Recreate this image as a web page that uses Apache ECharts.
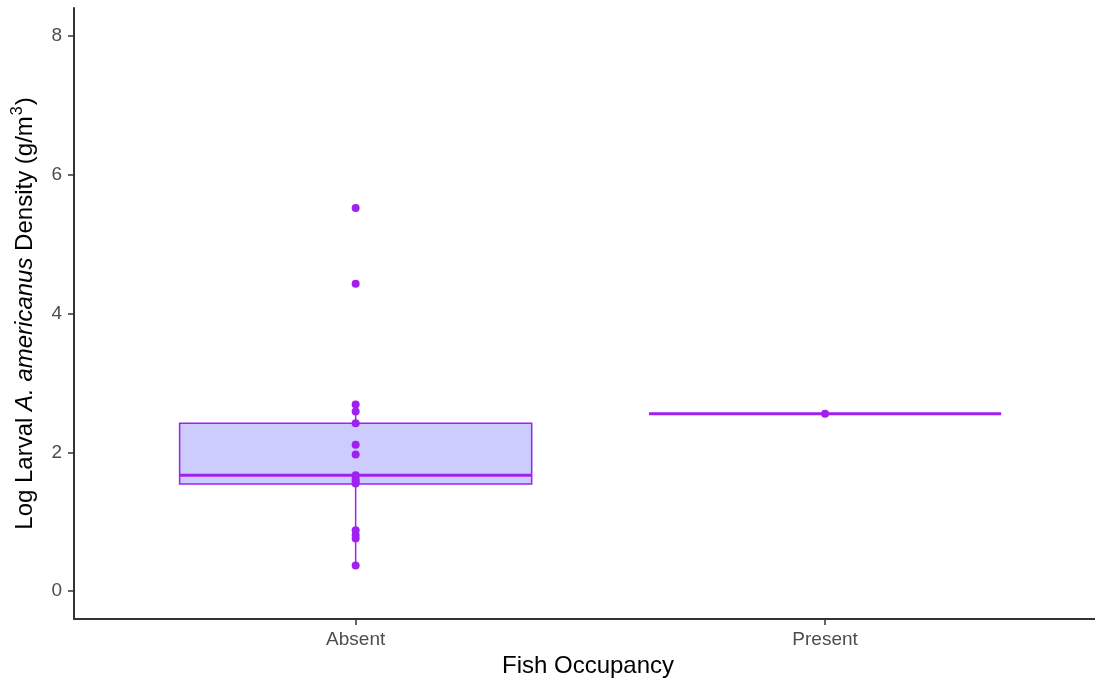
<!DOCTYPE html>
<html>
<head>
<meta charset="utf-8">
<script src="https://cdn.jsdelivr.net/npm/echarts@6.0.0/dist/echarts.min.js"></script>
<style>
  html, body { margin: 0; padding: 0; background: #ffffff; }
  #chart { width: 1095px; height: 683px; }
</style>
</head>
<body>
<div id="chart"></div>
<script>
// Groups along the x axis (placed at positions 1 and 2)
const categories = ['Absent', 'Present'];
// Box summary per group: [lower whisker, Q1, median, Q3, upper whisker]
const boxStats = [
  [0.37, 1.545, 1.67, 2.42, 2.69],
  [2.555, 2.555, 2.555, 2.555, 2.555]
];
// Individual observations per group
const absentValues = [5.52, 4.43, 2.69, 2.59, 2.42, 2.11, 1.97, 1.67, 1.62, 1.58, 1.55, 0.88, 0.81, 0.76, 0.37];
const presentValues = [2.555];
// Y axis tick labels
const yTicks = [0, 2, 4, 6, 8];

const PURPLE = '#A020F0';
const FILL = '#CCCCFF';
const FONT = '"Liberation Sans", Arial, sans-serif';
const BOX_HALF_WIDTH = 0.375;

const chart = echarts.init(document.getElementById('chart'), null, { renderer: 'canvas' });

const boxData = boxStats.map((s, i) => [i + 1].concat(s));
const pointData = absentValues.map(v => [1, v]).concat(presentValues.map(v => [2, v]));

function renderBox(params, api) {
  const x = api.value(0);
  const lo = api.value(1), q1 = api.value(2), med = api.value(3), q3 = api.value(4), hi = api.value(5);
  const tl = api.coord([x - BOX_HALF_WIDTH, q3]);
  const br = api.coord([x + BOX_HALF_WIDTH, q1]);
  const mL = api.coord([x - BOX_HALF_WIDTH, med]);
  const mR = api.coord([x + BOX_HALF_WIDTH, med]);
  const pLo = api.coord([x, lo]);
  const pHi = api.coord([x, hi]);
  const pQ1 = api.coord([x, q1]);
  const pQ3 = api.coord([x, q3]);
  const whisker = { stroke: PURPLE, lineWidth: 1.5 };
  return {
    type: 'group',
    children: [
      { type: 'line', shape: { x1: pQ3[0], y1: pQ3[1], x2: pHi[0], y2: pHi[1] }, style: whisker },
      { type: 'line', shape: { x1: pQ1[0], y1: pQ1[1], x2: pLo[0], y2: pLo[1] }, style: whisker },
      {
        type: 'rect',
        shape: { x: tl[0], y: tl[1], width: br[0] - tl[0], height: br[1] - tl[1] },
        style: { fill: FILL, stroke: PURPLE, lineWidth: 1.5 }
      },
      { type: 'line', shape: { x1: mL[0], y1: mL[1], x2: mR[0], y2: mR[1] }, style: { stroke: PURPLE, lineWidth: 3 } }
    ]
  };
}

const axisLineStyle = { color: '#333333', width: 2 };

const option = {
  backgroundColor: '#ffffff',
  animation: false,
  grid: { left: 74, right: 0, top: 8, bottom: 63.5, containLabel: false },
  xAxis: {
    type: 'value',
    min: 0.4,
    max: 2.575,
    name: 'Fish Occupancy',
    nameLocation: 'middle',
    nameGap: 35,
    nameTextStyle: { fontFamily: FONT, fontSize: 24, color: '#000000', padding: [0, 0, 0, 7] },
    axisLine: { show: true, onZero: false, lineStyle: axisLineStyle },
    axisTick: { show: true, length: 6, customValues: [1, 2], lineStyle: { color: '#333333', width: 1.5 } },
    axisLabel: {
      customValues: [1, 2],
      formatter: v => categories[Math.round(v) - 1] || '',
      margin: 11,
      fontFamily: FONT,
      fontSize: 19,
      color: '#4D4D4D'
    },
    splitLine: { show: false }
  },
  yAxis: {
    type: 'value',
    min: -0.4,
    max: 8.4,
    name: '{n|Log Larval }{i|A. americanus}{n| Density (g/m}{s|3}{n|)}',
    nameLocation: 'middle',
    nameGap: 34,
    nameTextStyle: {
      fontFamily: FONT,
      fontSize: 24,
      color: '#000000',
      rich: {
        n: { fontFamily: FONT, fontSize: 24, color: '#000000', lineHeight: 30 },
        i: { fontFamily: FONT, fontSize: 24, fontStyle: 'italic', color: '#000000', lineHeight: 30 },
        s: { fontFamily: FONT, fontSize: 16, color: '#000000', verticalAlign: 'top', lineHeight: 16, padding: [0, 1, 0, 1] }
      }
    },
    axisLine: { show: true, onZero: false, lineStyle: axisLineStyle },
    axisTick: { show: true, length: 6, customValues: yTicks, lineStyle: { color: '#333333', width: 1.5 } },
    axisLabel: {
      customValues: yTicks,
      margin: 12,
      fontFamily: FONT,
      fontSize: 19,
      color: '#4D4D4D'
    },
    splitLine: { show: false }
  },
  series: [
    {
      type: 'custom',
      name: 'box',
      renderItem: renderBox,
      data: boxData,
      encode: { x: 0, y: [1, 2, 3, 4, 5] },
      z: 2
    },
    {
      type: 'scatter',
      name: 'points',
      data: pointData,
      symbol: 'circle',
      symbolSize: 8,
      itemStyle: { color: PURPLE, opacity: 1 },
      z: 3
    }
  ]
};

chart.setOption(option);
</script>
</body>
</html>
